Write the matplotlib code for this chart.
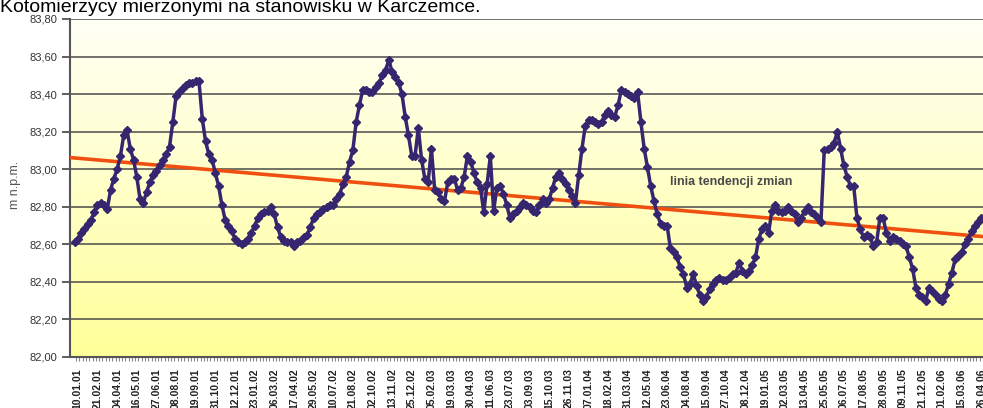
import numpy as np
import pandas as pd
import matplotlib
matplotlib.use("Agg")
import matplotlib.pyplot as plt
from matplotlib.colors import LinearSegmentedColormap
from matplotlib.ticker import FuncFormatter, MultipleLocator

plt.rcParams['font.family'] = ['Liberation Sans', 'DejaVu Sans']

# water level readings [m n.p.m.]
levels_a = [82.61, 82.63, 82.66, 82.68, 82.71, 82.73, 82.77, 82.81, 82.82, 82.81,
            82.79, 82.89, 82.95, 83.00, 83.07, 83.18, 83.21, 83.11, 83.05, 82.96,
            82.84, 82.82, 82.88, 82.93, 82.97, 82.99, 83.02, 83.05, 83.08, 83.12,
            83.25, 83.39, 83.41, 83.43, 83.45, 83.46, 83.46, 83.47, 83.47, 83.27,
            83.15, 83.08, 83.05, 82.98, 82.91, 82.81, 82.73]
levels_b = [82.70, 82.67, 82.63, 82.61, 82.60, 82.61, 82.63, 82.66, 82.70, 82.74,
            82.76, 82.77, 82.78, 82.80, 82.76, 82.69, 82.64, 82.62, 82.61, 82.61,
            82.59, 82.61, 82.62, 82.64, 82.65, 82.69, 82.74, 82.76, 82.77, 82.79,
            82.80, 82.81, 82.81, 82.84, 82.87, 82.92, 82.96, 83.04, 83.10, 83.25,
            83.34, 83.42, 83.42, 83.41, 83.41, 83.44, 83.46, 83.50]
levels_c = [83.53, 83.58, 83.52, 83.49, 83.46, 83.40, 83.28, 83.18, 83.07, 83.07,
            83.22, 83.05, 82.95, 82.93, 83.11, 82.89, 82.88, 82.84, 82.83, 82.93,
            82.95, 82.95, 82.89, 82.90, 82.96, 83.07, 83.04, 82.98, 82.93, 82.90,
            82.77, 82.92, 83.07, 82.78, 82.90, 82.91, 82.87, 82.81, 82.74, 82.76,
            82.78, 82.80, 82.82, 82.81, 82.80, 82.78, 82.77]
levels_d = [82.81, 82.84, 82.82, 82.84, 82.90, 82.96, 82.98, 82.95, 82.92, 82.89,
            82.86, 82.82, 82.97, 83.11, 83.23, 83.26, 83.26, 83.25, 83.24, 83.25,
            83.29, 83.31, 83.29, 83.28, 83.34, 83.42, 83.41, 83.40, 83.39, 83.38,
            83.41, 83.25, 83.11, 83.01, 82.91, 82.83, 82.76, 82.71, 82.70, 82.70,
            82.58, 82.56, 82.53, 82.48, 82.44, 82.37, 82.39]
levels_e = [82.44, 82.38, 82.33, 82.30, 82.32, 82.36, 82.39, 82.41, 82.42, 82.41,
            82.41, 82.42, 82.44, 82.45, 82.50, 82.46, 82.44, 82.46, 82.49, 82.53,
            82.63, 82.68, 82.70, 82.66, 82.78, 82.81, 82.78, 82.77, 82.78, 82.80,
            82.78, 82.76, 82.72, 82.74, 82.78, 82.80, 82.77, 82.76, 82.74, 82.72,
            83.10, 83.11, 83.12, 83.14, 83.20, 83.11, 83.02]
levels_f = [82.96, 82.91, 82.91, 82.74, 82.68, 82.64, 82.65, 82.64, 82.59, 82.61,
            82.74, 82.74, 82.66, 82.62, 82.64, 82.63, 82.62, 82.60, 82.59, 82.53,
            82.47, 82.37, 82.33, 82.32, 82.30, 82.37, 82.35, 82.33, 82.31, 82.30,
            82.33, 82.39, 82.45, 82.52, 82.54, 82.56, 82.60, 82.63, 82.67, 82.70,
            82.72, 82.74]
levels = levels_a + levels_b + levels_c + levels_d + levels_e + levels_f

# trend line read at the first and at the 276th reading
trend_at = [0, 275]
trend_val = [83.06, 82.645]

# measurement dates
dates = pd.date_range("2001-01-03", periods=len(levels), freq="7D")
label_every = 6

title = "Kotomierzycy mierzonymi na stanowisku w Karczemce."
trend_label = "linia tendencji zmian"
y_label = "m n.p.m."

W, H = 983, 408
fig = plt.figure(figsize=(W / 100, H / 100), dpi=100)
ax = fig.add_axes([70 / W, (H - 357) / H, 1 - 70 / W, 338 / H])

# yellow gradient background
cmap = LinearSegmentedColormap.from_list("bg", ["#FFFF99", "#FFFFF6"])
ax.imshow(np.linspace(0, 1, 256).reshape(-1, 1), extent=(0, 1, 0, 1),
          transform=ax.transAxes, aspect='auto', cmap=cmap, origin='lower', zorder=0)

x = np.arange(len(levels))
ax.plot(x, levels, color='#35266F', lw=2.5, marker='D', ms=4.5,
        mec='#35266F', mfc='#35266F', zorder=4)

slope = (trend_val[1] - trend_val[0]) / (trend_at[1] - trend_at[0])
tx = np.array([-5, len(levels) + 5])
ax.plot(tx, trend_val[0] + slope * (tx - trend_at[0]), color='#F0500F', lw=2.6, zorder=3)

ax.text(182, 82.93, trend_label, fontsize=9, fontweight='bold', color='#4a4a4a',
        va='center', ha='left', zorder=5)

ax.set_ylim(82.0, 83.8)
ax.set_xlim(-1.4, 275.3)
ax.yaxis.set_major_locator(MultipleLocator(0.2))
ax.yaxis.set_major_formatter(FuncFormatter(lambda v, p: f"{v:.2f}".replace('.', ',')))
ax.yaxis.grid(True, color='#4a4a4a', lw=1.1)
for gl in ax.get_ygridlines():
    gl.set_zorder(1)

tick_pos = x[1::label_every]
ax.set_xticks(tick_pos)
ax.set_xticklabels([d.strftime("%d.%m.%y") for d in dates[1::label_every]],
                   rotation=90, fontsize=7.5, fontweight='bold', color='#222222')
ax.set_xticks(x + 0.5, minor=True)
ax.tick_params(axis='x', which='major', length=0, pad=8)
ax.tick_params(axis='x', which='minor', length=3, color='#888888', width=0.8)
ax.tick_params(axis='y', which='major', length=6, width=1.2, color='#444444',
               labelsize=8, labelcolor='#333333', pad=3)

for side in ('left', 'bottom'):
    ax.spines[side].set_color('#555555')
    ax.spines[side].set_linewidth(1.5)
ax.spines['top'].set_visible(False)
ax.spines['right'].set_visible(False)

fig.text(15 / W, 1 - 185 / H, y_label, rotation=90, fontsize=9, color='#555555',
         ha='center', va='center')
fig.text(0.0, 1 - 12 / H, title, fontsize=14, color='black', ha='left', va='baseline')

fig.savefig("out.png", dpi=100)
